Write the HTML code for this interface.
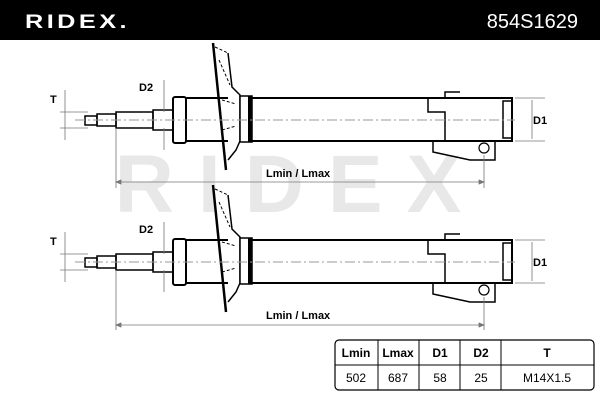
<!DOCTYPE html><html><head><style>body{margin:0;width:600px;height:400px;background:#fff;overflow:hidden;font-family:"Liberation Sans",sans-serif}</style></head><body>
<svg width="600" height="400" viewBox="0 0 600 400" xmlns="http://www.w3.org/2000/svg" font-family="Liberation Sans, sans-serif">
<rect width="600" height="40" fill="#000"/>
<text x="25" y="28" fill="#fff" font-size="22" font-weight="bold" letter-spacing="3" transform="scale(1.15,0.9)" transform-origin="25 28">RIDEX.</text>
<text x="578" y="28" fill="#fff" font-size="20" text-anchor="end">854S1629</text>
<text x="300" y="212" fill="#e8e8e8" font-size="82" font-weight="bold" text-anchor="middle" letter-spacing="24">RIDEX</text>
<defs><g id="s" stroke="#000" fill="none">
<rect x="85" y="116" width="12" height="9" stroke-width="1.5"/>
<rect x="97" y="114" width="19" height="12" stroke-width="1.5"/>
<rect x="116" y="112" width="37" height="16" stroke-width="1.5"/>
<rect x="153" y="110" width="20" height="20" stroke-width="1.5"/>
<rect x="173" y="97" width="13" height="46" rx="2" stroke-width="2"/>
<rect x="186" y="98" width="326" height="43" stroke-width="2"/>
<rect x="503" y="101" width="9" height="37" stroke-width="1.5"/>
<path d="M228 53 L232 87 L240 95 V141 L236 150 L228 160" fill="#fff" stroke-width="1.5"/>
<path d="M213 43 L226 170" stroke-width="2.5"/>
<path d="M215 47 L228 53 M219 60 L230 85 M222 100 L236 104 M222 130 L236 126" stroke-width="1" stroke-dasharray="3 2"/>
<rect x="240" y="96" width="12" height="46" fill="#fff" stroke-width="1.5"/>
<rect x="248" y="96" width="4" height="46" fill="#000" stroke="none"/>
<path d="M428 98 V112 H445 V141 M445 98 V92 H460 M433 141 V152 L470 160 H495 V141" stroke-width="1.5"/>
<circle cx="484" cy="148" r="5" stroke-width="1.2"/>
<path d="M75 120 H515" stroke="#999" stroke-dasharray="10 3 2 3" stroke-width="1"/>
<path d="M60 112 H88 M60 128 H88 M65 90 V140 M164 80 V112 M164 128 V150 M515 98 H545 M515 141 H545 M532 100 V139" stroke="#777" stroke-width="0.8"/>
</g></defs>
<use href="#s"/>
<use href="#s" transform="translate(0,142)"/>
<g font-size="11" font-weight="bold">
<text x="50" y="103">T</text><text x="139" y="91">D2</text><text x="533" y="124">D1</text>
<text x="50" y="245">T</text><text x="139" y="233">D2</text><text x="533" y="266">D1</text>
<text x="266" y="177">Lmin / Lmax</text><text x="266" y="319">Lmin / Lmax</text>
</g>
<g stroke="#777" stroke-width="0.8" fill="#777">
<path d="M116 128 V188 M116 270 V330 M484 155 V188 M484 297 V330 M118 182 H482 M118 325 H482"/>
<path d="M116 182 l5 -2 v4 Z M484 182 l-5 -2 v4 Z M116 325 l5 -2 v4 Z M484 325 l-5 -2 v4 Z"/>
</g>
<rect x="335" y="340" width="259" height="50" rx="4" fill="#fff" stroke="#000" stroke-width="1.2"/>
<path d="M335 365 H594 M378 340 V390 M419 340 V390 M460 340 V390 M501 340 V390" stroke="#000" stroke-width="1"/>
<g font-size="12" text-anchor="middle">
<g font-weight="bold"><text x="356" y="357">Lmin</text><text x="398" y="357">Lmax</text><text x="440" y="357">D1</text><text x="481" y="357">D2</text><text x="547" y="357">T</text></g>
<text x="356" y="382">502</text><text x="398" y="382">687</text><text x="440" y="382">58</text><text x="481" y="382">25</text><text x="547" y="382">M14X1.5</text>
</g>
</svg></body></html>
